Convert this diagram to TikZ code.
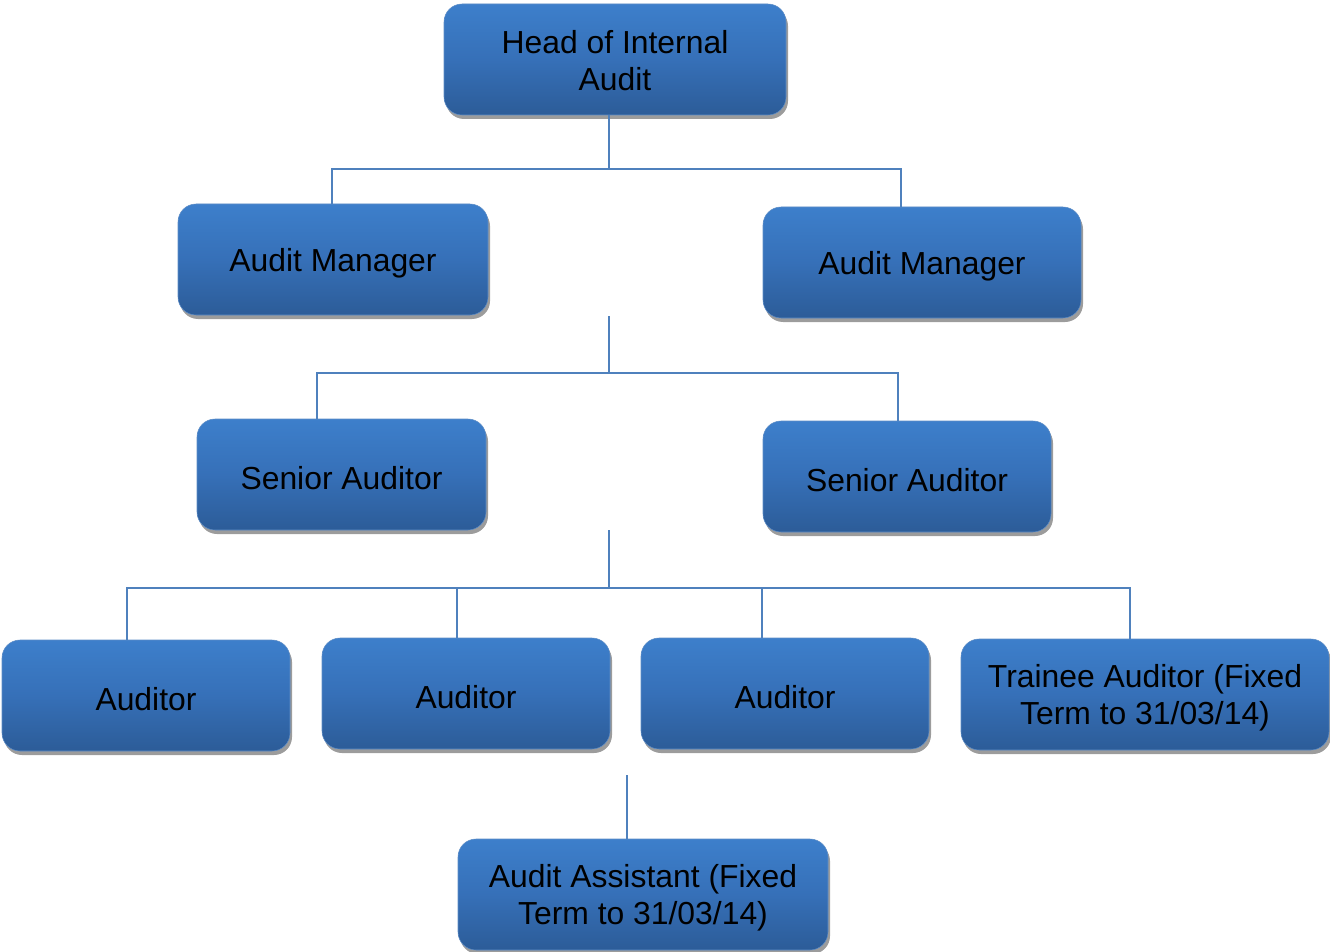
\documentclass[tikz,border=0pt]{standalone}
\usepackage{fontspec}
\setmainfont{Liberation Sans}
\usetikzlibrary{shadows,calc}
\definecolor{boxtop}{HTML}{3D7FCB}
\definecolor{boxmid}{HTML}{3670B8}
\definecolor{boxbot}{HTML}{2C5C98}
\definecolor{connc}{HTML}{4F81BD}
\definecolor{shadc}{HTML}{9C9C9C}
\tikzset{
  orgbox/.style={rounded corners=13.5pt, draw=boxmid!80, line width=0.4pt,
    top color=boxtop, bottom color=boxbot, middle color=boxmid,
    drop shadow={shadow xshift=1.5pt, shadow yshift=-3pt, fill=shadc, opacity=1},
    minimum height=83.25pt, inner sep=0pt},
  orgtext/.style={inner sep=0pt, align=center, yshift=-2.6pt,
    font=\fontsize{23.9}{27.5}\selectfont, text=black},
  conn/.style={draw=connc, line width=1.1pt}
}
\begin{document}
\begin{tikzpicture}[x=0.75pt,y=-0.75pt]
\useasboundingbox (0,0) rectangle (1330,952);
\node[orgbox, minimum width=256.5pt, label={[orgtext, yshift=1.8pt]center:Head of Internal\\Audit}] (head) at (615,59.5) {};
\node[orgbox, minimum width=232.5pt, label={[orgtext]center:Audit Manager}] (aml) at (333,259.5) {};
\node[orgbox, minimum width=238.5pt, label={[orgtext]center:Audit Manager}] (amr) at (922,262.5) {};
\node[orgbox, minimum width=216.75pt, label={[orgtext]center:Senior Auditor}] (sal) at (341.5,474.5) {};
\node[orgbox, minimum width=216pt, label={[orgtext]center:Senior Auditor}] (sar) at (907,476.5) {};
\node[orgbox, minimum width=216pt, label={[orgtext]center:Auditor}] (a1) at (146,695.5) {};
\node[orgbox, minimum width=216pt, label={[orgtext]center:Auditor}] (a2) at (466,693.5) {};
\node[orgbox, minimum width=216pt, label={[orgtext]center:Auditor}] (a3) at (785,693.5) {};
\node[orgbox, minimum width=276pt, label={[orgtext]center:Trainee Auditor (Fixed\\Term to 31/03/14)}] (tr) at (1145,694.5) {};
\node[orgbox, minimum width=277.5pt, label={[orgtext]center:Audit Assistant (Fixed\\Term to 31/03/14)}] (aa) at (643,894.5) {};
\coordinate (j1) at (609,169);
\coordinate (s1) at (609,316);
\coordinate (j2) at (609,373);
\coordinate (s2) at (609,530);
\coordinate (j3) at (609,588);
\coordinate (s3) at (627,775);
\draw[conn] (head.south -| j1) -- (j1);
\draw[conn] ($(aml.north)+(-1,0)$) |- (j1) -| ($(amr.north)+(-21,0)$);
\draw[conn] (s1) -- (j2);
\draw[conn] ($(sal.north)+(-24.5,0)$) |- (j2) -| ($(sar.north)+(-9,0)$);
\draw[conn] (s2) -- (j3);
\draw[conn] ($(a1.north)+(-19,0)$) |- (j3) -| ($(tr.north)+(-15,0)$);
\draw[conn] ($(a2.north)+(-9,0)$) |- (j3);
\draw[conn] ($(a3.north)+(-23,0)$) |- (j3);
\draw[conn] (s3) -- (aa.north -| s3);
\end{tikzpicture}
\end{document}
